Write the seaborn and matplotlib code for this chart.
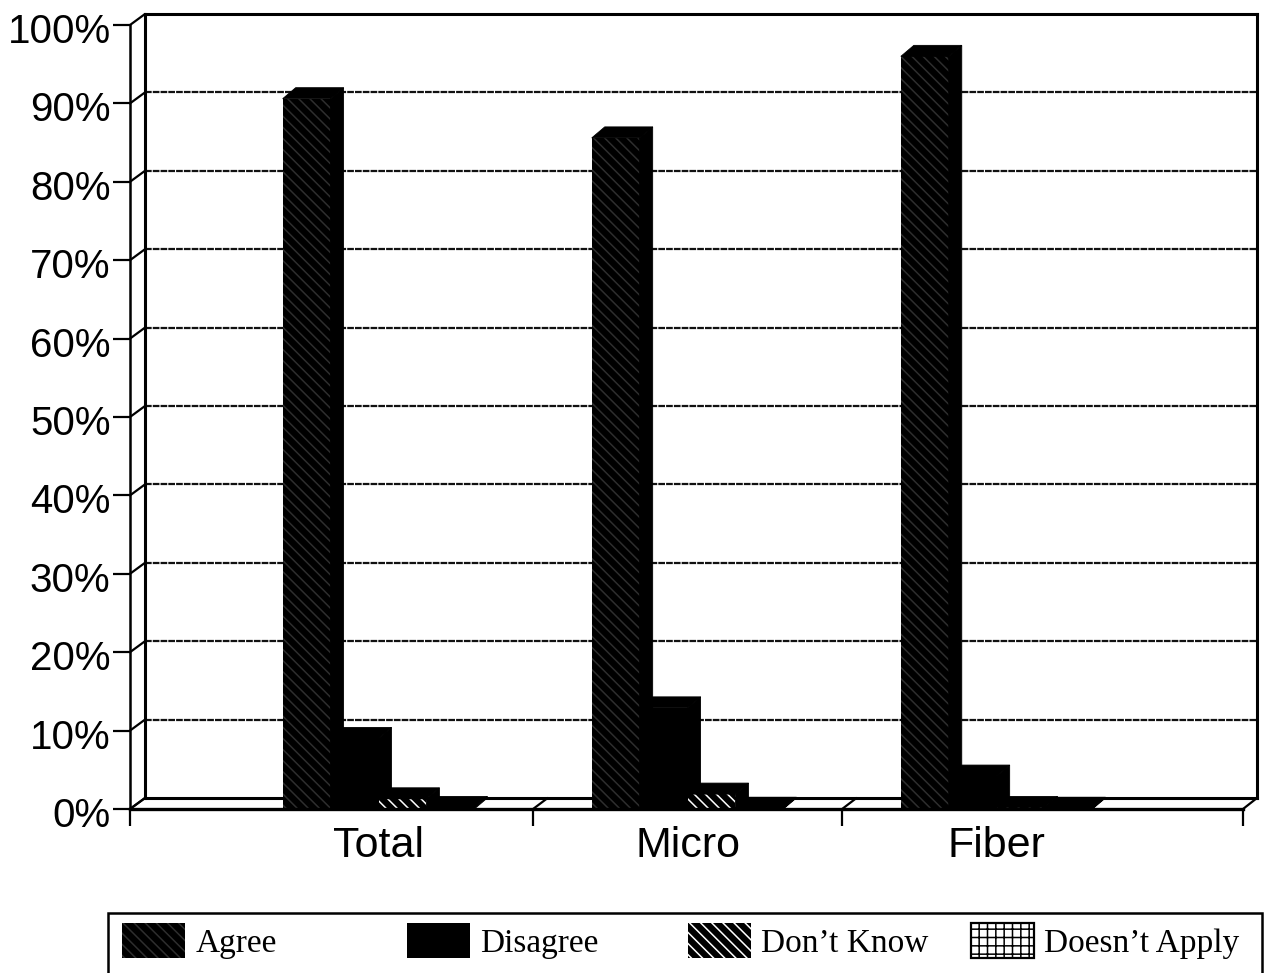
import pandas as pd
import seaborn as sns
import matplotlib.pyplot as plt

from matplotlib.patches import ConnectionPatch, Polygon, Rectangle
from matplotlib.transforms import ScaledTranslation

groups = ['Total', 'Micro', 'Fiber']
responses = ['Agree', 'Disagree', 'Don’t Know', 'Doesn’t Apply']
agree = [90.6, 85.6, 96.0]
disagree = [9.0, 12.9, 4.2]
dont_know = [1.3, 1.9, 0.2]
doesnt_apply = [0.2, 0.1, 0.1]
y_ticks = [0, 10, 20, 30, 40, 50, 60, 70, 80, 90, 100]

W, H = 1272, 973
DEPTH_X, DEPTH_Y = 13, 11


def box(left, top, right, bottom):
    return [left / W, 1 - bottom / H, (right - left) / W, (bottom - top) / H]


def link(fig, front, back, xy):
    fig.add_artist(ConnectionPatch(xyA=xy, coordsA=front.transAxes,
        xyB=xy, coordsB=back.transAxes, color='black', lw=1.6))


sns.set_theme(style='white')
plt.rcParams['font.family'] = ['Liberation Sans', 'DejaVu Sans']
plt.rcParams['hatch.linewidth'] = 1.1

df = pd.DataFrame({'group': groups, responses[0]: agree, responses[1]: disagree,
    responses[2]: dont_know, responses[3]: doesnt_apply})
df = df.melt(id_vars='group', var_name='response', value_name='percent')

fig = plt.figure(figsize=(W / 100, H / 100), dpi=100)

# back wall of the fake 3d box
back = fig.add_axes(box(145, 14, 1257, 798))
back.set_xlim(0, 1)
back.set_ylim(0, 100)
back.set_xticks([])
back.set_yticks(y_ticks[1:-1])
back.tick_params(left=False, labelleft=False)
back.grid(axis='y', color='#111111', lw=1.6, ls=(0, (3, 0.5)))
for side in back.spines:
    back.spines[side].set_color('black')
    back.spines[side].set_linewidth(2.2)

ax = fig.add_axes(box(130, 25, 1243, 809))
ax.patch.set_visible(False)
sns.barplot(data=df, x='group', y='percent', hue='response', order=groups,
    hue_order=responses, palette=['black', 'black', 'black', 'white'],
    width=0.62, gap=0, legend=False, ax=ax)

ax.set_xlim(-0.804, 2.797)
ax.set_ylim(0, 100)
ax.set_xlabel('')
ax.set_ylabel('')
ax.set_yticks(y_ticks)
ax.set_yticklabels([f'{t}%' for t in y_ticks], fontsize=29)
ax.tick_params(axis='y', direction='out', length=12, width=1.6, color='black',
    pad=2, left=True, labelcolor='black')
ax.set_xticks([0, 1, 2])
ax.set_xticklabels(groups, fontsize=31, color='black')
ax.tick_params(axis='x', length=0, pad=12)

# y labels sit a bit below their ticks in the original
nudge = ScaledTranslation(0, -3 / 100, fig.dpi_scale_trans)
for lab in ax.get_yticklabels():
    lab.set_transform(lab.get_transform() + nudge)

sep_ticks = [-0.804, 0.5, 1.5, 2.797]
ax.set_xticks(sep_ticks, minor=True)
ax.tick_params(axis='x', which='minor', direction='out', length=12, width=1.6,
    color='black', bottom=True)

sns.despine(ax=ax, top=True, right=True)
ax.spines['left'].set_color('black')
ax.spines['left'].set_linewidth(1.8)
ax.spines['bottom'].set_color('black')
ax.spines['bottom'].set_linewidth(2.4)
ax.spines['bottom'].set_zorder(10)

for t in y_ticks:
    link(fig, ax, back, (0, t / 100))
for s in sep_ticks:
    link(fig, ax, back, ((s - sep_ticks[0]) / (sep_ticks[-1] - sep_ticks[0]), 0))

styles = [
    ('#2e2e2e', '\\\\\\', 0),
    ('black', None, 0),
    ('white', '\\\\\\', 0),
    ('black', '++', 1.6),
]

# per unit sizes of the bar depth
dx = DEPTH_X * (ax.get_xlim()[1] - ax.get_xlim()[0]) / (1243 - 130)
dy = DEPTH_Y * 100 / (809 - 25)

for i, (cont, style) in enumerate(zip(ax.containers, styles)):
    edge, hatch, width = style
    for bar in cont.patches:
        bar.set_edgecolor(edge)
        bar.set_hatch(hatch)
        bar.set_linewidth(width)
        bar.set_zorder(3 + i)
        x0, x1 = bar.get_x(), bar.get_x() + bar.get_width()
        h = bar.get_height()
        top = [(x0, h), (x0 + dx, h + dy), (x1 + dx, h + dy), (x1, h)]
        right = [(x1, 0), (x1 + dx, dy), (x1 + dx, h + dy), (x1, h)]
        for pts in (top, right):
            ax.add_patch(Polygon(pts, closed=True, facecolor='black',
                edgecolor='black', lw=0.6, zorder=3 + i, clip_on=False))

# legend box runs off the bottom of the page
fig.add_artist(Rectangle((108 / W, -0.02), (1262 - 108) / W, 1.02 - 913 / H,
    transform=fig.transFigure, facecolor='white', edgecolor='black', lw=1.8))

legend_x = [122, 407, 688, 971]
for cont, label, x in zip(ax.containers, responses, legend_x):
    patch = cont.patches[0]
    handle = plt.Rectangle((0, 0), 1, 1, facecolor=patch.get_facecolor(),
        edgecolor=patch.get_edgecolor(), hatch=patch.get_hatch(),
        lw=patch.get_linewidth())
    fig.legend([handle], [label], loc='center left',
        bbox_to_anchor=(x / W, 1 - 941 / H), frameon=False, borderpad=0,
        borderaxespad=0, handlelength=1.9, handleheight=1.25, handletextpad=0.3,
        prop={'family': 'Liberation Serif', 'size': 24}, labelcolor='black')

fig.savefig('out.png', dpi=100)
